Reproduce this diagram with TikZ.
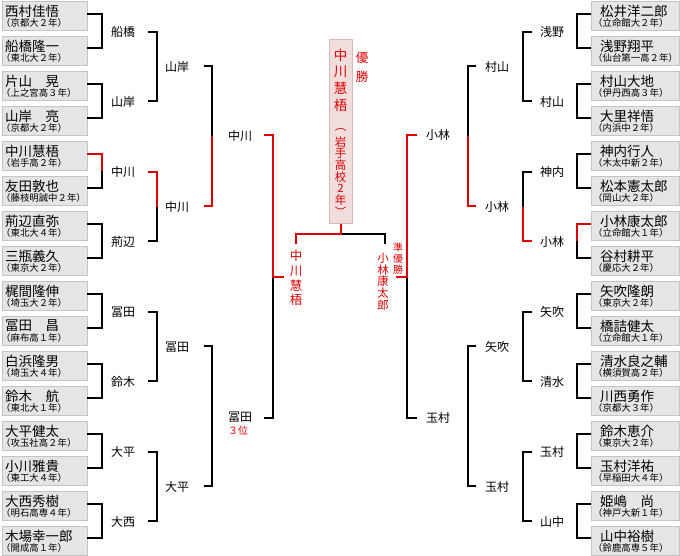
\documentclass[tikz,border=0pt]{standalone}
\usepackage{fontspec}
\setmainfont{Noto Sans CJK JP}
\definecolor{rd}{RGB}{222,0,0}
\definecolor{boxfill}{RGB}{229,229,229}
\definecolor{boxline}{RGB}{196,196,196}
\definecolor{winfill}{RGB}{242,221,221}
\definecolor{winline}{RGB}{214,186,186}
\newcommand{\fz}[1]{\fontsize{#1}{#1}\selectfont}
\begin{document}
\begin{tikzpicture}[x=1pt,y=-1pt,
  ln/.style={line width=1.3pt, line join=miter},
  rl/.style={line width=1.3pt, draw=rd, line join=miter},
  player/.style={draw=boxline, fill=boxfill, line width=1pt, minimum width=85pt, minimum height=29pt, inner sep=0, anchor=north west},
  nm/.style={font=\fz{13.5}, anchor=west, inner sep=0},
  af/.style={font=\fz{9.4}, anchor=west, inner sep=0},
  lbl/.style={font=\fz{12}, inner sep=0},
  vch/.style={text=rd, inner sep=0}]
\useasboundingbox (0,0) rectangle (680,555);

% left players
\foreach \n/\a [count=\i from 0] in {西村佳悟/（京都大２年）,
船橋隆一/（東北大２年）,
片山　晃/（上之宮高３年）,
山岸　亮/（京都大２年）,
中川慧梧/（岩手高２年）,
友田敦也/（藤枝明誠中２年）,
荊辺直弥/（東北大４年）,
三瓶義久/（東京大２年）,
梶間隆伸/（埼玉大２年）,
冨田　昌/（麻布高１年）,
白浜隆男/（埼玉大４年）,
鈴木　航/（東北大１年）,
大平健太/（攻玉社高２年）,
小川雅貴/（東工大４年）,
大西秀樹/（明石高専４年）,
木場幸一郎/（開成高１年）}
{
  \node[player] (L\i) at (2,35*\i+1) {};
  \node[nm] (Ln\i) at (5,35*\i+11) {\n};
  \node[af] (La\i) at (1,35*\i+23) {\a};
}

% right players
\foreach \n/\a [count=\i from 0] in {松井洋二郎/（立命館大２年）,
浅野翔平/（仙台第一高２年）,
村山大地/（伊丹西高３年）,
大里祥悟/（内浜中２年）,
神内行人/（木太中新２年）,
松本憲太郎/（岡山大２年）,
小林康太郎/（立命館大１年）,
谷村耕平/（慶応大２年）,
矢吹隆朗/（東京大２年）,
橋詰健太/（立命館大１年）,
清水良之輔/（横須賀高２年）,
川西勇作/（京都大３年）,
鈴木恵介/（東京大２年）,
玉村洋祐/（早稲田大４年）,
姫嶋　尚/（神戸大新１年）,
山中裕樹/（鈴鹿高専５年）}
{
  \node[player, minimum width=88pt] (R\i) at (591,35*\i+1) {};
  \node[nm] (Rn\i) at (600,35*\i+11) {\n};
  \node[af] (Ra\i) at (593,35*\i+23) {\a};
}

% left brackets
\foreach \k in {0,...,7}
  \draw[ln] (87,70*\k+14) -| (102,70*\k+48) -- (87,70*\k+48);
\foreach \m in {0,...,3}
  \draw[ln] (148,140*\m+32) -| (157,140*\m+101) -- (148,140*\m+101);
\foreach \n in {0,1}
  \draw[ln] (204,280*\n+66) -| (212,280*\n+206) -- (204,280*\n+206);
\draw[ln] (264,135) -| (273,418) -- (264,418);

% right brackets
\foreach \k in {0,...,7}
  \draw[ln] (591,70*\k+14) -| (577,70*\k+48) -- (591,70*\k+48);
\foreach \m in {0,...,3}
  \draw[ln] (532,140*\m+32) -| (523,140*\m+101) -- (532,140*\m+101);
\foreach \n in {0,1}
  \draw[ln] (476,280*\n+66) -| (468,280*\n+206) -- (476,280*\n+206);
\draw[ln] (417,135) -| (407,418) -- (417,418);

% winner path (red)
\draw[rl] (87,154) -- (102,154) -- (102,171);
\draw[rl] (148,172) -- (157,172) -- (157,206.5);
\draw[rl] (212,136) -- (212,206) -- (204,206);
\draw[rl] (264,135) -- (273,135) -- (273,277) -- (284,277);
\draw[rl] (591,224) -- (577,224) -- (577,241);
\draw[rl] (532,241) -- (523,241) -- (523,206.5);
\draw[rl] (476,206) -- (468,206) -- (468,136);
\draw[rl] (417,135) -- (407,135) -- (407,277) -- (396,277);

% left labels
\foreach \t [count=\k from 0] in {船橋,山岸,中川,荊辺,冨田,鈴木,大平,大西}
  \node[lbl] (LA\k) at (123,70*\k+32) {\t};
\foreach \t [count=\k from 0] in {山岸,中川,冨田,大平}
  \node[lbl] (LB\k) at (177,140*\k+67) {\t};
\node[lbl] (LC0) at (240,136) {中川};
\node[lbl] (LC1) at (240,417) {冨田};
\node[font=\fz{10}, text=rd, inner sep=0] (third) at (238,431) {３位};

% right labels
\foreach \t [count=\k from 0] in {浅野,村山,神内,小林,矢吹,清水,玉村,山中}
  \node[lbl] (RA\k) at (552,70*\k+32) {\t};
\foreach \t [count=\k from 0] in {村山,小林,矢吹,玉村}
  \node[lbl] (RB\k) at (497,140*\k+67) {\t};
\node[lbl] (RC0) at (438,135) {小林};
\node[lbl] (RC1) at (438,418) {玉村};

% champion box
\node[draw=winline, fill=winfill, line width=1pt, minimum width=23pt, minimum height=184pt, inner sep=0] (champ) at (340.5,131) {};
\foreach \c [count=\j from 0] in {中,川,慧,梧}
  \node[vch, font=\fz{13.5}] (W\j) at (340.5,55+16.7*\j) {\c};
\foreach \c [count=\j from 0] in {︵,岩,手,高,校,2,年,︶}
  \node[vch, font=\fz{11.5}] (S\j) at (340.5,130+11.7*\j) {\c};
\foreach \c [count=\j from 0] in {優,勝}
  \node[vch, font=\fz{12.5}] (V\j) at (362,58+19*\j) {\c};

% final connector
\coordinate (fl) at (296,244);
\coordinate (fr) at (385,244);
\draw[ln] (341,234) -- (385,234) -- (fr);
\draw[rl] (fl) -- (296,234) -- (341,234) -- (champ.south -| 341,0);

\foreach \c [count=\j from 0] in {中,川,慧,梧}
  \node[vch, font=\fz{12.5}] (F\j) at (296,256+14.7*\j) {\c};
\foreach \c [count=\j from 0] in {小,林,康,太,郎}
  \node[vch, font=\fz{11.5}] (G\j) at (383,258+11.7*\j) {\c};
\foreach \c [count=\j from 0] in {準,優,勝}
  \node[vch, font=\fz{10}] (H\j) at (398,248+11*\j) {\c};
\end{tikzpicture}
\end{document}
